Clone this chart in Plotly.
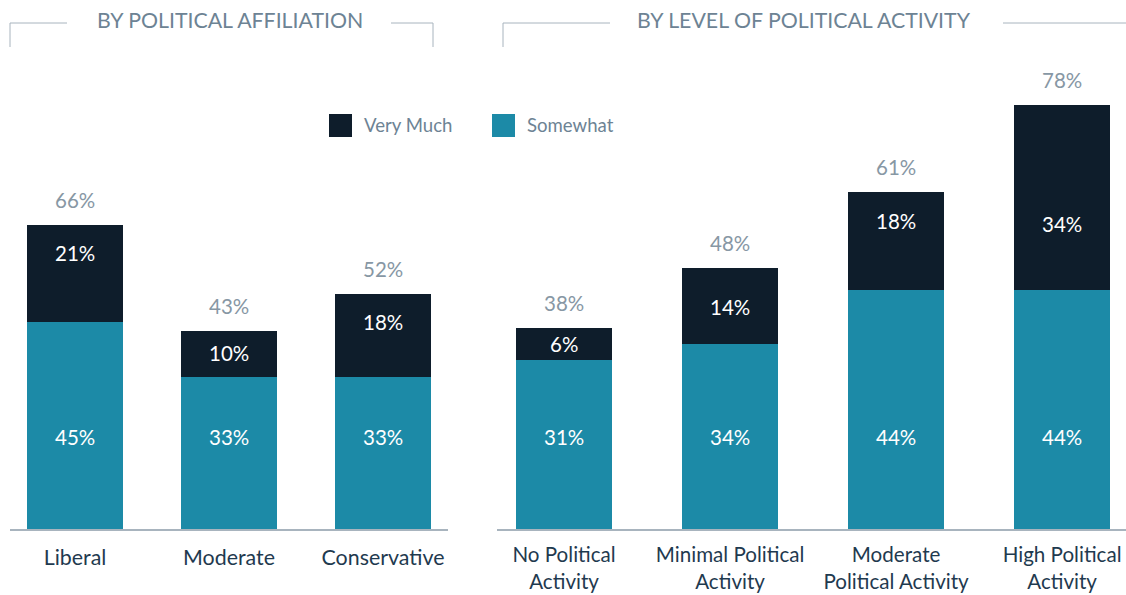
import plotly.graph_objects as go

# Data: share of respondents, by group
affil_cats = ["Liberal", "Moderate", "Conservative"]
affil_very = [21, 10, 18]
affil_some = [45, 33, 33]
affil_total = [66, 43, 52]

activity_cats = ["No Political<br>Activity", "Minimal Political<br>Activity",
                 "Moderate<br>Political Activity", "High Political<br>Activity"]
activity_very = [6, 14, 18, 34]
activity_some = [31, 34, 44, 44]
activity_total = [38, 48, 61, 78]

panel_titles = ["BY POLITICAL AFFILIATION", "BY LEVEL OF POLITICAL ACTIVITY"]
legend_names = ["Very Much", "Somewhat"]

# label placement (pixels): "Very Much" labels sit this far below the stack top,
# "Somewhat" labels sit at a fixed height above the baseline
affil_very_label_drop = [28, 22, 28]
activity_very_label_drop = [16, 39, 29, 119]
SOME_LABEL_RISE = 92

DARK = "#0e1d2b"
TEAL = "#1c8aa7"
TITLE_GREY = "#6d8394"
TOTAL_GREY = "#8797a4"
LINE_GREY = "#a8b4be"
TICK_NAVY = "#1f3a4f"
FONT = "Lato, 'Open Sans', sans-serif"

W, H = 1126, 595
MT, MB = 60, 66
PLOT_H = H - MT - MB


def px_x(p):
    return p / W


def px_y(p):
    # convert a pixel row to paper units of the plot area
    return (H - MB - p) / PLOT_H


fig = go.Figure()

for cats, some, very, xa, ya, wd in [
    (affil_cats, affil_some, affil_very, "x", "y", 0.623),
    (activity_cats, activity_some, activity_very, "x2", "y2", 0.578),
]:
    fig.add_trace(go.Bar(x=cats, y=some, name=legend_names[1], marker_color=TEAL,
                         width=wd, xaxis=xa, yaxis=ya, marker_line_width=0,
                         showlegend=False, hoverinfo="skip"))
    fig.add_trace(go.Bar(x=cats, y=very, name=legend_names[0], marker_color=DARK,
                         width=wd, xaxis=xa, yaxis=ya, marker_line_width=0,
                         showlegend=False, hoverinfo="skip"))

annotations = []
seg_font = dict(size=20.5, color="white", family=FONT)
for cats, some, very, totals, drops, xa, ya in [
    (affil_cats, affil_some, affil_very, affil_total, affil_very_label_drop, "x", "y"),
    (activity_cats, activity_some, activity_very, activity_total,
     activity_very_label_drop, "x2", "y2"),
]:
    for c, s, v, t, d in zip(cats, some, very, totals, drops):
        # total above each stack
        annotations.append(dict(x=c, y=s + v, xref=xa, yref=ya, text=f"{t}%",
                                showarrow=False, yanchor="bottom", yshift=11,
                                font=dict(size=20.5, color=TOTAL_GREY, family=FONT)))
        # segment values
        annotations.append(dict(x=c, y=s + v, xref=xa, yref=ya, text=f"{v}%",
                                showarrow=False, yanchor="middle", yshift=-d,
                                font=seg_font))
        annotations.append(dict(x=c, y=0, xref=xa, yref=ya, text=f"{s}%",
                                showarrow=False, yanchor="middle",
                                yshift=SOME_LABEL_RISE, font=seg_font))

# panel headings
for title, cx in zip(panel_titles, [229.5, 804]):
    annotations.append(dict(x=px_x(cx), y=px_y(20), xref="paper", yref="paper",
                            text=title, showarrow=False, xanchor="center",
                            yanchor="middle",
                            font=dict(size=21.3, color=TITLE_GREY, family=FONT)))

# legend
legend_items = [(329, legend_names[0], DARK), (492, legend_names[1], TEAL)]
shapes = []
for x0, name, col in legend_items:
    shapes.append(dict(type="rect", xref="paper", yref="paper",
                       x0=px_x(x0), x1=px_x(x0 + 23), y0=px_y(137), y1=px_y(114),
                       fillcolor=col, line_width=0))
    annotations.append(dict(x=px_x(x0 + 33), y=px_y(125), xref="paper", yref="paper",
                            text=name, showarrow=False, xanchor="left",
                            yanchor="middle",
                            font=dict(size=18.6, color=TITLE_GREY, family=FONT)))

# heading brackets
line = dict(color=LINE_GREY, width=1)
for x0, x1, y0, y1 in [
    (10, 67, 23, 23), (10, 10, 23, 47),
    (391, 433, 23, 23), (433, 433, 23, 47),
    (503, 610, 23, 23), (503, 503, 23, 47),
    (1003, 1126, 23, 23),
]:
    shapes.append(dict(type="line", xref="paper", yref="paper",
                       x0=px_x(x0), x1=px_x(x1), y0=px_y(y0), y1=px_y(y1), line=line))

xaxis_common = dict(type="category", showgrid=False, zeroline=False, showline=True,
                    linecolor=LINE_GREY, linewidth=1.5, ticks="outside",
                    tickcolor="rgba(0,0,0,0)", fixedrange=True, automargin=False)
yaxis_common = dict(visible=False, showgrid=False, zeroline=False, fixedrange=True,
                    automargin=False)

fig.update_layout(
    width=W, height=H,
    barmode="stack",
    paper_bgcolor="white", plot_bgcolor="white",
    margin=dict(l=0, r=0, t=MT, b=MB),
    font=dict(family=FONT),
    xaxis=dict(xaxis_common, domain=[px_x(10), px_x(448)], range=[-0.422, 2.422],
               anchor="y", ticklen=9,
               tickfont=dict(size=21.4, color=TICK_NAVY, family=FONT)),
    xaxis2=dict(xaxis_common, domain=[px_x(497), 1.0], range=[-0.404, 3.385],
                anchor="y2", ticklen=7,
                tickfont=dict(size=20.6, color=TICK_NAVY, family=FONT)),
    yaxis=dict(yaxis_common, range=[0, PLOT_H / 4.6], anchor="x"),
    yaxis2=dict(yaxis_common, range=[0, PLOT_H / 5.44], anchor="x2"),
    annotations=annotations,
    shapes=shapes,
    showlegend=False,
)

fig.write_html("out.html")
